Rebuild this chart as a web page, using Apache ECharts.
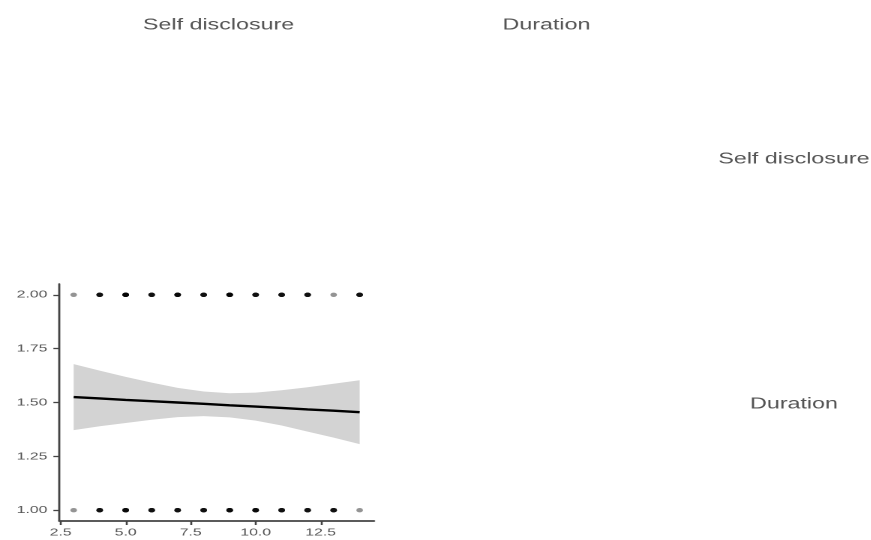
<!DOCTYPE html>
<html>
<head>
<meta charset="utf-8">
<script src="https://cdn.jsdelivr.net/npm/echarts@6/dist/echarts.min.js"></script>
<style>
  html, body { margin: 0; padding: 0; background: #fff; overflow: hidden; width: 871px; height: 540px; }
  #wrap { width: 871px; height: 540px; overflow: hidden; }
  /* the matrix is laid out narrow and widened to the page */
  #chart { width: 581px; height: 540px; transform: scaleX(1.5); transform-origin: 0 0; }
</style>
</head>
<body>
<div id="wrap"><div id="chart"></div></div>
<script>
// Matrix headers
const columnHeaders = ['Self disclosure', 'Duration'];
const rowHeaders = ['Self disclosure', 'Duration'];

// Self disclosure scores (x) and how many cases sit at each Duration level (y = 1 / 2)
const selfDisclosure = [3, 4, 5, 6, 7, 8, 9, 10, 11, 12, 13, 14];
const countAtDuration2 = [1, 5, 7, 5, 6, 5, 7, 5, 5, 5, 1, 5];
const countAtDuration1 = [1, 5, 6, 5, 5, 5, 6, 6, 5, 5, 5, 1];

// Linear fit and its 95% confidence band
const fitValues = [1.525, 1.519, 1.512, 1.506, 1.500, 1.494, 1.487, 1.481, 1.475, 1.468, 1.462, 1.455];
const bandUpper = [1.678, 1.648, 1.619, 1.592, 1.568, 1.551, 1.543, 1.546, 1.557, 1.571, 1.587, 1.603];
const bandLower = [1.372, 1.390, 1.405, 1.420, 1.432, 1.437, 1.431, 1.416, 1.393, 1.365, 1.337, 1.307];

// Tick labels
const xTickValues = [2.5, 5.0, 7.5, 10.0, 12.5];
const yTickValues = [1.00, 1.25, 1.50, 1.75, 2.00];

// one translucent dot per case, so stacked cases render darker
const casePoints = [];
selfDisclosure.forEach((x, i) => {
  for (let k = 0; k < countAtDuration2[i]; k++) casePoints.push([x, 2]);
  for (let k = 0; k < countAtDuration1[i]; k++) casePoints.push([x, 1]);
});

const bandRows = selfDisclosure.map((x, i) => [x, bandLower[i], bandUpper[i]]);
const fitPts = selfDisclosure.map((x, i) => [x, fitValues[i]]);

const labelFont = 'Liberation Sans, Arial, sans-serif';
const axisColor = '#444444';

const chart = echarts.init(document.getElementById('chart'), null, { renderer: 'canvas', devicePixelRatio: 2 });

const headerText = (text, x, y) => ({
  type: 'text', x: x, y: y,
  style: { text: text, fill: '#555555', font: '15.5px ' + labelFont, textAlign: 'center', textVerticalAlign: 'middle' }
});

// confidence band: a single polygon along the upper edge and back along the lower edge
function renderBand(params, api) {
  if (params.dataIndex !== 0) return null;
  const top = bandRows.map(r => api.coord([r[0], r[2]]));
  const bottom = bandRows.map(r => api.coord([r[0], r[1]])).reverse();
  return {
    type: 'polygon',
    shape: { points: top.concat(bottom) },
    style: { fill: '#d3d3d3' }
  };
}

chart.setOption({
  animation: false,
  backgroundColor: '#ffffff',
  grid: { left: 39.6, right: 331.7, top: 284, bottom: 19, containLabel: false },
  xAxis: {
    type: 'value', min: 2.45, max: 14.55,
    splitLine: { show: false },
    axisLine: { show: true, onZero: false, lineStyle: { color: axisColor, width: 1.8 } },
    axisTick: { show: true, length: 4, customValues: xTickValues, lineStyle: { color: axisColor, width: 1.3 } },
    axisLabel: {
      customValues: xTickValues, margin: 6, color: '#555555', fontSize: 10.5, fontFamily: labelFont,
      formatter: v => v.toFixed(1)
    }
  },
  yAxis: {
    type: 'value', min: 0.95, max: 2.05,
    splitLine: { show: false },
    axisLine: { show: true, onZero: false, lineStyle: { color: axisColor, width: 1.4 } },
    axisTick: { show: true, length: 4, customValues: yTickValues, lineStyle: { color: axisColor, width: 1.3 } },
    axisLabel: {
      customValues: yTickValues, margin: 8, color: '#555555', fontSize: 10.5, fontFamily: labelFont,
      formatter: v => v.toFixed(2)
    }
  },
  series: [
    {
      type: 'scatter', data: casePoints, symbol: 'circle', symbolSize: 4.4,
      itemStyle: { color: '#000', opacity: 0.42 }, silent: true, z: 2,
      progressive: 0, large: false
    },
    {
      type: 'custom', data: bandRows, renderItem: renderBand,
      encode: { x: 0, y: [1, 2] }, silent: true, z: 3
    },
    {
      type: 'line', data: fitPts, showSymbol: false, symbol: 'none',
      lineStyle: { color: '#000', width: 2.4 }, silent: true, z: 4
    }
  ],
  graphic: [
    headerText(columnHeaders[0], 145.7, 25),
    headerText(columnHeaders[1], 364.3, 25),
    headerText(rowHeaders[0], 529.3, 159),
    headerText(rowHeaders[1], 529.3, 404)
  ]
});
</script>
</body>
</html>
